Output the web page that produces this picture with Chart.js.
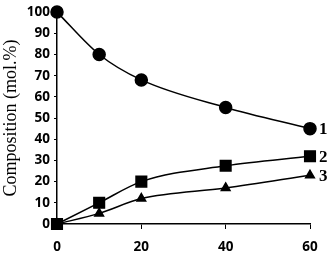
<!DOCTYPE html>
<html>
<head>
<meta charset="utf-8">
<script src="https://cdn.jsdelivr.net/npm/chart.js@4"></script>
<style>
  html, body { margin: 0; padding: 0; background: #fff; }
  #wrap { width: 332px; height: 255px; }
</style>
</head>
<body>
<div id="wrap"><canvas id="grafico" width="332" height="255"></canvas></div>
<script>
// dados
var tempos = [0, 10, 20, 40, 60];
var serie1 = [100, 80, 68, 55, 45];
var serie2 = [0, 10, 20, 27.5, 32];
var serie3 = [0, 5, 12, 17, 23];
var rotulos = ['1', '2', '3'];
var ticksX = [0, 20, 40, 60];

function pontos(ys) {
  return tempos.map(function (t, i) { return { x: t, y: ys[i] }; });
}

// escreve 1, 2, 3 ao lado do ultimo ponto de cada serie
var rotuloFinal = {
  id: 'rotuloFinal',
  afterDatasetsDraw: function (chart) {
    var ctx = chart.ctx;
    ctx.save();
    ctx.font = 'bold 17px "Liberation Serif"';
    ctx.fillStyle = '#000';
    ctx.textBaseline = 'middle';
    chart.data.datasets.forEach(function (ds, i) {
      var meta = chart.getDatasetMeta(i);
      var p = meta.data[meta.data.length - 1];
      ctx.fillText(rotulos[i], p.x + 9, p.y + 1);
    });
    ctx.restore();
  }
};

function serie(dados, estilo, raio) {
  return {
    data: pontos(dados),
    borderColor: '#000',
    backgroundColor: '#000',
    borderWidth: 1.5,
    pointStyle: estilo,
    pointRadius: raio,
    pointHoverRadius: raio,
    tension: 0.4,
    cubicInterpolationMode: 'monotone',
    clip: false,
    fill: false
  };
}

var fonteTick = { family: 'Open Sans', weight: 'bold', size: 13.5 };

new Chart(document.getElementById('grafico'), {
  type: 'line',
  data: {
    datasets: [
      serie(serie1, 'circle', 6),
      serie(serie2, 'rect', 7.5),
      serie(serie3, 'triangle', 5)
    ]
  },
  options: {
    responsive: false,
    animation: false,
    layout: { padding: { top: 9, right: 22, left: 0, bottom: 0 } },
    plugins: { legend: { display: false }, tooltip: { enabled: false } },
    scales: {
      x: {
        type: 'linear',
        min: 0,
        max: 60,
        afterBuildTicks: function (ax) { ax.ticks = ticksX.map(function (v) { return { value: v }; }); },
        afterFit: function (ax) { ax.height = 31; },
        grid: { display: true, drawOnChartArea: false, color: '#000', tickLength: 5, tickColor: '#000' },
        border: { color: '#000', width: 1.5 },
        ticks: { color: '#000', padding: 10, font: fonteTick }
      },
      y: {
        min: 0,
        max: 100,
        afterFit: function (ax) { ax.width = 57; },
        grid: { display: true, drawOnChartArea: false, color: '#000', tickLength: 3, tickColor: '#000' },
        border: { color: '#000', width: 1.5 },
        ticks: { stepSize: 10, color: '#000', padding: 4, font: fonteTick },
        title: {
          display: true,
          text: 'Composition (mol.%)',
          color: '#000',
          padding: 0,
          font: { family: 'Liberation Serif', size: 18 }
        }
      }
    }
  },
  plugins: [rotuloFinal]
});
</script>
</body>
</html>
